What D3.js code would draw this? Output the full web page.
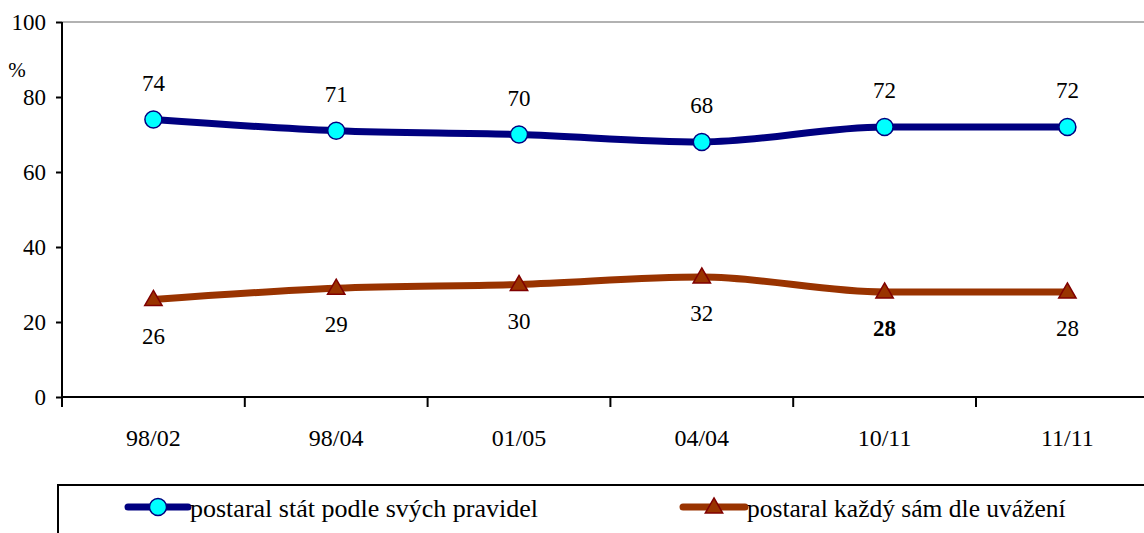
<!DOCTYPE html>
<html><head><meta charset="utf-8">
<script src="https://cdn.jsdelivr.net/npm/d3@7"></script>
</head><body style="margin:0;background:#fff;overflow:hidden">
<script>
const categories = ["98/02","98/04","01/05","04/04","10/11","11/11"];
const stateValues = [74,71,70,68,72,72];
const selfValues = [26,29,30,32,28,28];
const yTicks = [0,20,40,60,80,100];
const seriesNames = ["postaral stát podle svých pravidel","postaral každý sám dle uvážení"];

const FONT="'Liberation Serif'";
const W=1144,H=533;
const svg=d3.select("body").append("svg").attr("width",W).attr("height",H).style("display","block");
const pLeft=62, pTop=22, pBottom=397, bandW=182.8;
const x=d3.scaleBand().domain(categories).range([pLeft,pLeft+bandW*categories.length]).paddingInner(0).paddingOuter(0);
const y=d3.scaleLinear().domain([0,100]).range([pBottom,pTop]);
const cx=d=>x(d)+x.bandwidth()/2;

svg.append("line").attr("x1",pLeft).attr("x2",W).attr("y1",y(100)).attr("y2",y(100)).attr("stroke","#999").attr("stroke-width",1.5);

const ya=svg.append("g").attr("transform",`translate(${pLeft},0)`)
 .call(d3.axisLeft(y).tickValues(yTicks).tickSize(6).tickPadding(10));
ya.select(".domain").remove();
ya.selectAll(".tick line").attr("stroke","#000").attr("stroke-width",2);
ya.selectAll(".tick text").style("font-family",FONT).style("font-size","23px").attr("fill","#000").attr("dy","0.33em");
svg.append("line").attr("x1",pLeft).attr("x2",pLeft).attr("y1",pTop).attr("y2",pBottom+10).attr("stroke","#000").attr("stroke-width",2);
svg.append("text").attr("x",17).attr("y",77).attr("text-anchor","middle").style("font-family",FONT).style("font-size","21px").text("%");

svg.append("line").attr("x1",pLeft).attr("x2",W).attr("y1",pBottom).attr("y2",pBottom).attr("stroke","#000").attr("stroke-width",2);
const bounds=categories.map(c=>x(c)).concat([x(categories[categories.length-1])+x.bandwidth()]);
svg.selectAll(".xt").data(bounds).enter().append("line").attr("x1",d=>d).attr("x2",d=>d).attr("y1",pBottom).attr("y2",pBottom+10).attr("stroke","#000").attr("stroke-width",2);
svg.selectAll(".xl").data(categories).enter().append("text").attr("x",d=>cx(d)).attr("y",446).attr("text-anchor","middle").style("font-family",FONT).style("font-size","24px").text(d=>d);

const line=d3.line().x((d,i)=>cx(categories[i])).y(d=>y(d)).curve(d3.curveMonotoneX);

svg.append("path").datum(stateValues).attr("d",line).attr("fill","none").attr("stroke","#000080").attr("stroke-width",7);
svg.append("path").datum(selfValues).attr("d",line).attr("fill","none").attr("stroke","#993300").attr("stroke-width",7);

const tri=d3.symbol().type(d3.symbolTriangle).size(130);
svg.selectAll(".c").data(stateValues).enter().append("circle").attr("cx",(d,i)=>cx(categories[i])).attr("cy",d=>y(d)).attr("r",8.5).attr("fill","#00ffff").attr("stroke","#000080").attr("stroke-width",1.5);
svg.selectAll(".t").data(selfValues).enter().append("path").attr("d",tri).attr("transform",(d,i)=>`translate(${cx(categories[i])},${y(d)+1})`).attr("fill","#993300").attr("stroke","#800000").attr("stroke-width",1.5);

svg.selectAll(".l1").data(stateValues).enter().append("text").attr("x",(d,i)=>cx(categories[i])).attr("y",d=>y(d)-29).attr("text-anchor","middle").style("font-family",FONT).style("font-size","23px").text(d=>d);
svg.selectAll(".l2").data(selfValues).enter().append("text").attr("x",(d,i)=>cx(categories[i])).attr("y",d=>y(d)+44).attr("text-anchor","middle").style("font-family",FONT).style("font-size","23px").style("font-weight",(d,i)=>i===4?"bold":"normal").text(d=>d);

svg.append("rect").attr("x",58).attr("y",485).attr("width",W).attr("height",100).attr("fill","none").attr("stroke","#000").attr("stroke-width",2);
const lg=[{x1:128,x2:188,tx:190,mx:158},{x1:683,x2:745,tx:747,mx:714}];
svg.append("line").attr("x1",lg[0].x1).attr("x2",lg[0].x2).attr("y1",507).attr("y2",507).attr("stroke","#000080").attr("stroke-width",7).attr("stroke-linecap","round");
svg.append("circle").attr("cx",lg[0].mx).attr("cy",507).attr("r",8.5).attr("fill","#00ffff").attr("stroke","#000080").attr("stroke-width",1.5);
svg.append("text").attr("x",lg[0].tx).attr("y",517).style("font-family",FONT).style("font-size","26px").text(seriesNames[0]);
svg.append("line").attr("x1",lg[1].x1).attr("x2",lg[1].x2).attr("y1",507).attr("y2",507).attr("stroke","#993300").attr("stroke-width",7).attr("stroke-linecap","round");
svg.append("path").attr("d",tri).attr("transform",`translate(${lg[1].mx},508)`).attr("fill","#993300").attr("stroke","#800000").attr("stroke-width",1.5);
svg.append("text").attr("x",lg[1].tx).attr("y",517).style("font-family",FONT).style("font-size","25.5px").text(seriesNames[1]);
</script>
</body></html>
